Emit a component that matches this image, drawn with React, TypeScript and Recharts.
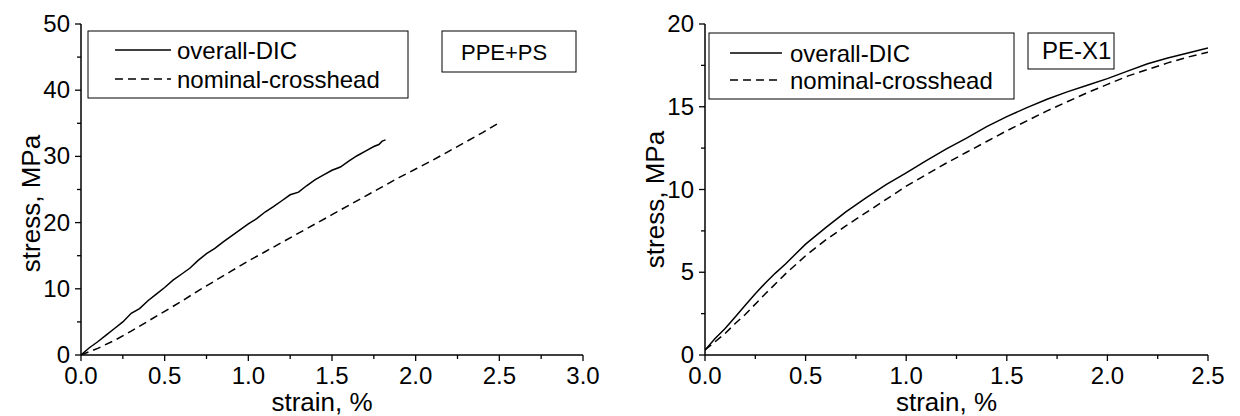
import React from 'react';
import { LineChart, Line, XAxis, YAxis, Legend } from 'recharts';

const FONT = '"Liberation Sans", Arial, Helvetica, sans-serif';
const INK = '#000';

// ---- PPE+PS specimen -------------------------------------------------------
const ppeDicStrain = [
  0, 0.05, 0.1, 0.15, 0.2, 0.25, 0.3, 0.35, 0.4, 0.45, 0.5, 0.55, 0.6, 0.65,
  0.7, 0.75, 0.8, 0.85, 0.9, 0.95, 1.0, 1.05, 1.1, 1.15, 1.2, 1.25, 1.3, 1.35,
  1.4, 1.45, 1.5, 1.55, 1.6, 1.65, 1.7, 1.75, 1.78, 1.8, 1.82,
];
const ppeDicStress = [
  0, 1.1, 2.0, 3.0, 4.0, 5.0, 6.3, 7.0, 8.2, 9.2, 10.2, 11.3, 12.2, 13.1,
  14.3, 15.3, 16.1, 17.1, 18.0, 18.9, 19.8, 20.6, 21.6, 22.4, 23.3, 24.2, 24.6,
  25.6, 26.5, 27.2, 27.9, 28.4, 29.3, 30.1, 30.8, 31.5, 31.8, 32.3, 32.5,
];
const ppeNominalStrain = [
  0, 0.1, 0.2, 0.3, 0.4, 0.5, 0.6, 0.7, 0.8, 0.9, 1.0, 1.1, 1.2, 1.3, 1.4,
  1.5, 1.6, 1.7, 1.8, 1.9, 2.0, 2.1, 2.2, 2.3, 2.4, 2.5,
];
const ppeNominalStress = [
  0, 1.0, 2.2, 3.6, 5.1, 6.6, 8.1, 9.7, 11.2, 12.7, 14.2, 15.6, 17.0, 18.4,
  19.8, 21.2, 22.6, 24.0, 25.4, 26.8, 28.1, 29.4, 30.8, 32.2, 33.6, 35.1,
];

// ---- PE-X1 specimen --------------------------------------------------------
const pexDicStrain = [
  0, 0.05, 0.1, 0.15, 0.2, 0.25, 0.3, 0.35, 0.4, 0.45, 0.5, 0.6, 0.7, 0.8,
  0.9, 1.0, 1.1, 1.2, 1.3, 1.4, 1.5, 1.6, 1.7, 1.8, 1.9, 2.0, 2.1, 2.2, 2.3,
  2.4, 2.5,
];
const pexDicStress = [
  0.3, 1.0, 1.6, 2.3, 3.0, 3.7, 4.35, 4.95, 5.5, 6.1, 6.7, 7.7, 8.65, 9.5,
  10.3, 11.0, 11.75, 12.45, 13.1, 13.8, 14.4, 14.95, 15.45, 15.9, 16.3, 16.7,
  17.15, 17.6, 17.95, 18.25, 18.55,
];
const pexNominalStrain = [
  0, 0.05, 0.1, 0.15, 0.2, 0.3, 0.4, 0.5, 0.6, 0.7, 0.8, 0.9, 1.0, 1.1, 1.2,
  1.3, 1.4, 1.5, 1.6, 1.7, 1.8, 1.9, 2.0, 2.1, 2.2, 2.3, 2.4, 2.5,
];
const pexNominalStress = [
  0.3, 0.8, 1.3, 1.9, 2.45, 3.7, 4.9, 6.0, 6.95, 7.8, 8.6, 9.4, 10.2, 10.9,
  11.6, 12.25, 12.9, 13.55, 14.15, 14.75, 15.3, 15.85, 16.35, 16.85, 17.25,
  17.65, 18.0, 18.3,
];

// ---- axis ticks ------------------------------------------------------------
const ppeStrainMajor = [0, 0.5, 1.0, 1.5, 2.0, 2.5, 3.0];
const ppeStrainMinor = [0.25, 0.75, 1.25, 1.75, 2.25, 2.75];
const ppeStressMajor = [0, 10, 20, 30, 40, 50];
const ppeStressMinor = [5, 15, 25, 35, 45];

const pexStrainMajor = [0, 0.5, 1.0, 1.5, 2.0, 2.5];
const pexStrainMinor = [0.25, 0.75, 1.25, 1.75, 2.25];
const pexStressMajor = [0, 5, 10, 15, 20];
const pexStressMinor = [2.5, 7.5, 12.5, 17.5];

// ---- series / panel labels -------------------------------------------------
const seriesNames = ['overall-DIC', 'nominal-crosshead'];
const ppeTag = 'PPE+PS';
const pexTag = 'PE-X1';
const strainTitle = 'strain, %';
const stressTitle = 'stress, MPa';

const pairUp = (xs: number[], ys: number[]) =>
  xs.map((x, i) => ({ strain: x, stress: ys[i] }));

const merge = (a: number[], b: number[]) => [...a, ...b].sort((p, q) => p - q);
const isIn = (list: number[], v: number) => list.some((m) => Math.abs(m - v) < 1e-9);

const DASH = '8 5';

type KeyLayout = {
  box: [number, number, number, number];
  lineX: [number, number];
  rowY: [number, number];
  textX: number;
  tagBox: [number, number, number, number];
  tagTextX: number;
  tagFont: number;
};

function SeriesKey({ payload, layout, tag }: { payload?: any[]; layout: KeyLayout; tag: string }) {
  // keep the entries in the order the series are declared
  const items = [...(payload ?? [])].sort(
    (a: any, b: any) => seriesNames.indexOf(a.value) - seriesNames.indexOf(b.value),
  );
  const [bx, by, bw, bh] = layout.box;
  const [tx, ty, tw, th] = layout.tagBox;
  return (
    <svg width={620} height={416} style={{ position: 'absolute', left: 0, top: 0, overflow: 'visible' }}>
      <rect x={bx} y={by} width={bw} height={bh} fill="#fff" stroke={INK} strokeWidth={1} />
      {items.map((it: any, i: number) => (
        <g key={i}>
          <line
            x1={layout.lineX[0]}
            x2={layout.lineX[1]}
            y1={layout.rowY[i]}
            y2={layout.rowY[i]}
            stroke={INK}
            strokeWidth={1.4}
            strokeDasharray={it.payload?.strokeDasharray}
          />
          <text
            x={layout.textX}
            y={layout.rowY[i] + 8.5}
            fontFamily={FONT}
            fontSize={24}
            fill={INK}
          >
            {it.value}
          </text>
        </g>
      ))}
      <rect x={tx} y={ty} width={tw} height={th} fill="#fff" stroke={INK} strokeWidth={1} />
      <text x={layout.tagTextX} y={ty + th / 2 + 8.3} fontFamily={FONT} fontSize={layout.tagFont} fill={INK}>
        {tag}
      </text>
    </svg>
  );
}

type PanelProps = {
  offsetX: number;
  marginLeft: number;
  marginRight: number;
  xMax: number;
  yMax: number;
  xMajor: number[];
  xMinor: number[];
  yMajor: number[];
  yMinor: number[];
  dic: { strain: number; stress: number }[];
  nominal: { strain: number; stress: number }[];
  tag: string;
  keyLayout: KeyLayout;
  yTitleShift: number;
};

function Panel(p: PanelProps) {
  const xTicks = merge(p.xMajor, p.xMinor);
  const yTicks = merge(p.yMajor, p.yMinor);

  const bottomTick = (t: any) => {
    const { x, y, payload } = t;
    const major = isIn(p.xMajor, payload.value);
    return (
      <g>
        <line x1={x} x2={x} y1={y} y2={y + (major ? 6 : 4)} stroke={INK} strokeWidth={1.3} />
        {major && (
          <text x={x} y={y + 28.5} textAnchor="middle" fontFamily={FONT} fontSize={24} fill={INK}>
            {Number(payload.value).toFixed(1)}
          </text>
        )}
      </g>
    );
  };

  const leftTick = (t: any) => {
    const { x, y, payload } = t;
    const major = isIn(p.yMajor, payload.value);
    return (
      <g>
        <line x1={x - (major ? 6 : 4)} x2={x} y1={y} y2={y} stroke={INK} strokeWidth={1.3} />
        {major && (
          <text x={x - 11} y={y + 8} textAnchor="end" fontFamily={FONT} fontSize={24} fill={INK}>
            {String(payload.value)}
          </text>
        )}
      </g>
    );
  };

  const topTick = (t: any) => {
    const { x, y } = t;
    return <line x1={x} x2={x} y1={y} y2={y + 3.5} stroke={INK} strokeWidth={1.2} />;
  };

  const rightTick = (t: any) => {
    const { x, y } = t;
    return <line x1={x - 3.5} x2={x} y1={y} y2={y} stroke={INK} strokeWidth={1.2} />;
  };

  const axisLine = { stroke: INK, strokeWidth: 1.5 };

  return (
    <div style={{ position: 'absolute', left: p.offsetX, top: 0, width: 620, height: 416 }}>
      <LineChart
        width={620}
        height={416}
        margin={{ top: 24, right: p.marginRight, bottom: 11, left: p.marginLeft }}
      >
        <XAxis
          type="number"
          dataKey="strain"
          domain={[0, p.xMax]}
          ticks={xTicks}
          interval={0}
          height={50}
          tickSize={0}
          tickMargin={0}
          tickLine={false}
          axisLine={axisLine}
          tick={bottomTick}
          allowDataOverflow
          label={{
            content: (lp: any) => {
              const vb = lp.viewBox;
              return (
                <text
                  x={vb.x + vb.width / 2 - 10}
                  y={vb.y + 56}
                  textAnchor="middle"
                  fontFamily={FONT}
                  fontSize={26}
                  fill={INK}
                >
                  {strainTitle}
                </text>
              );
            },
          }}
        />
        <XAxis
          xAxisId="top"
          orientation="top"
          type="number"
          dataKey="strain"
          domain={[0, p.xMax]}
          ticks={xTicks}
          interval={0}
          height={0}
          tickSize={0}
          tickMargin={0}
          tickLine={false}
          axisLine={axisLine}
          tick={topTick}
          allowDataOverflow
        />
        <YAxis
          type="number"
          domain={[0, p.yMax]}
          ticks={yTicks}
          interval={0}
          width={60}
          tickSize={0}
          tickMargin={0}
          tickLine={false}
          axisLine={axisLine}
          tick={leftTick}
          allowDataOverflow
          label={{
            content: (lp: any) => {
              const vb = lp.viewBox;
              const cx = vb.x + 19;
              const cy = vb.y + vb.height / 2 + p.yTitleShift;
              return (
                <text
                  x={cx}
                  y={cy}
                  transform={`rotate(-90, ${cx}, ${cy})`}
                  textAnchor="middle"
                  fontFamily={FONT}
                  fontSize={26}
                  fill={INK}
                >
                  {stressTitle}
                </text>
              );
            },
          }}
        />
        <YAxis
          yAxisId="right"
          orientation="right"
          type="number"
          domain={[0, p.yMax]}
          ticks={yTicks}
          interval={0}
          width={0}
          tickSize={0}
          tickMargin={0}
          tickLine={false}
          axisLine={axisLine}
          tick={rightTick}
          allowDataOverflow
        />
        <Line
          data={p.dic}
          dataKey="stress"
          name={seriesNames[0]}
          type="linear"
          stroke={INK}
          strokeWidth={1.5}
          dot={false}
          activeDot={false}
          isAnimationActive={false}
        />
        <Line
          data={p.nominal}
          dataKey="stress"
          name={seriesNames[1]}
          type="linear"
          stroke={INK}
          strokeWidth={1.5}
          strokeDasharray={DASH}
          dot={false}
          activeDot={false}
          isAnimationActive={false}
        />
        <Legend
          verticalAlign="middle"
          layout="horizontal"
          wrapperStyle={{ left: 0, top: 0, width: 620, height: 416, pointerEvents: 'none' }}
          content={(lp: any) => <SeriesKey payload={lp.payload} layout={p.keyLayout} tag={p.tag} />}
        />
      </LineChart>
    </div>
  );
}

export default function App() {
  return (
    <div style={{ position: 'absolute', left: 0, top: 0, width: 1240, height: 416, background: '#fff' }}>
      <Panel
        offsetX={0}
        marginLeft={21}
        marginRight={37}
        xMax={3}
        yMax={50}
        xMajor={ppeStrainMajor}
        xMinor={ppeStrainMinor}
        yMajor={ppeStressMajor}
        yMinor={ppeStressMinor}
        dic={pairUp(ppeDicStrain, ppeDicStress)}
        nominal={pairUp(ppeNominalStrain, ppeNominalStress)}
        tag={ppeTag}
        yTitleShift={14}
        keyLayout={{
          box: [88, 31, 320, 67],
          lineX: [115, 171],
          rowY: [50, 79],
          textX: 177,
          tagBox: [442, 31, 134, 41],
          tagTextX: 461,
          tagFont: 22,
        }}
      />
      <Panel
        offsetX={620}
        marginLeft={25}
        marginRight={32}
        xMax={2.5}
        yMax={20}
        xMajor={pexStrainMajor}
        xMinor={pexStrainMinor}
        yMajor={pexStressMajor}
        yMinor={pexStressMinor}
        dic={pairUp(pexDicStrain, pexDicStress)}
        nominal={pairUp(pexNominalStrain, pexNominalStress)}
        tag={pexTag}
        yTitleShift={10}
        keyLayout={{
          box: [89, 33, 305, 66],
          lineX: [110, 162],
          rowY: [53, 80],
          textX: 170,
          tagBox: [408, 33, 86, 36],
          tagTextX: 422,
          tagFont: 24,
        }}
      />
    </div>
  );
}
